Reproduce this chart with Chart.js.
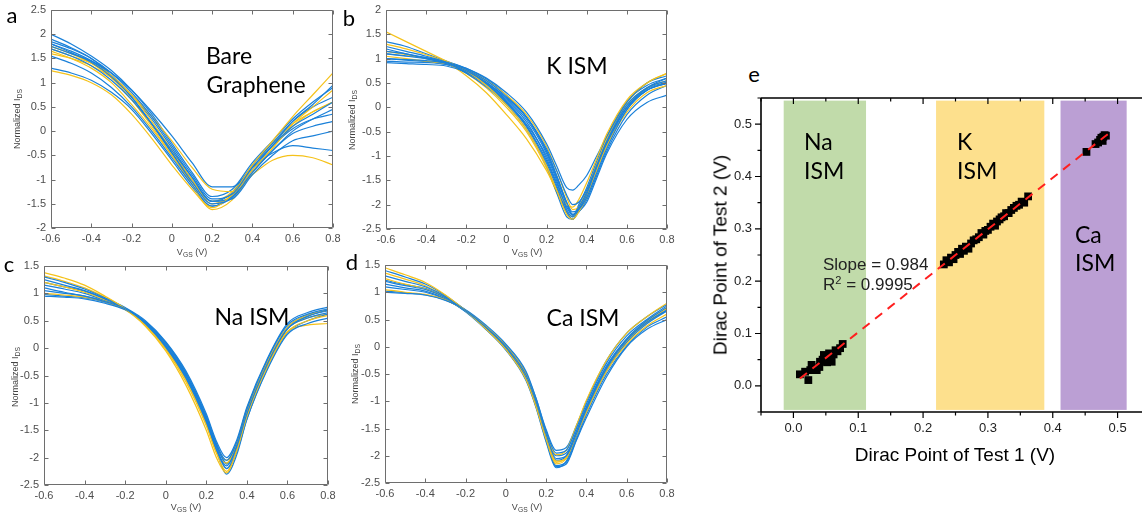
<!DOCTYPE html>
<html>
<head>
<meta charset="utf-8">
<script src="https://cdn.jsdelivr.net/npm/chart.js@4.4.1/dist/chart.umd.min.js"></script>
<style>
html, body { margin: 0; padding: 0; width: 1142px; height: 520px; overflow: hidden; background: #fff; }
canvas { position: absolute; }
.t { position: absolute; white-space: nowrap; line-height: 1; transform: translate(-50%, -50%); }
.l { position: absolute; white-space: nowrap; line-height: 1; transform: translate(0, -50%); }
.big { font-family: Lato, sans-serif; font-size: 23px; color: #000; }
.pl { font-family: Lato, sans-serif; font-size: 22px; color: #000; }
.ax { font-family: "Liberation Sans", Arial, sans-serif; font-size: 9px; color: #444; }
.rot { transform: translate(-50%, -50%) rotate(-90deg); }
.ea { font-family: "Liberation Sans", Arial, sans-serif; font-size: 19px; color: #000; }
.fit { font-family: "Liberation Sans", Arial, sans-serif; font-size: 17px; color: #222; }
sub { font-size: 75%; vertical-align: -0.3em; line-height: 0; }
sup { font-size: 65%; vertical-align: 0.5em; line-height: 0; }
</style>
</head>
<body>
<canvas id="pa"></canvas>
<canvas id="pb"></canvas>
<canvas id="pc"></canvas>
<canvas id="pd"></canvas>
<canvas id="pe"></canvas>

<!-- panel letters and labels -->
<div class="t pl" style="left:12px;top:15px">a</div>
<div class="t pl" style="left:349px;top:18px">b</div>
<div class="t pl" style="left:9px;top:264px">c</div>
<div class="t pl" style="left:352px;top:262px">d</div>
<div class="t pl" style="left:754px;top:74px">e</div>

<div class="t big" style="left:229px;top:55px">Bare</div>
<div class="t big" style="left:256px;top:84px">Graphene</div>
<div class="t big" style="left:577px;top:65px">K ISM</div>
<div class="t big" style="left:252px;top:316px">Na ISM</div>
<div class="t big" style="left:583px;top:317px">Ca ISM</div>

<div class="t ax rot" style="left:17px;top:119px">Normalized I<sub>DS</sub></div>
<div class="t ax" style="left:192px;top:252px">V<sub>GS</sub> (V)</div>
<div class="t ax rot" style="left:352px;top:120px">Normalized I<sub>DS</sub></div>
<div class="t ax" style="left:527px;top:252px">V<sub>GS</sub> (V)</div>
<div class="t ax rot" style="left:15px;top:377px">Normalized I<sub>DS</sub></div>
<div class="t ax" style="left:186px;top:507px">V<sub>GS</sub> (V)</div>
<div class="t ax rot" style="left:355px;top:374px">Normalized I<sub>DS</sub></div>
<div class="t ax" style="left:527px;top:507px">V<sub>GS</sub> (V)</div>

<div class="l big" style="left:804px;top:141px">Na</div>
<div class="l big" style="left:804px;top:170px">ISM</div>
<div class="l big" style="left:957px;top:141px">K</div>
<div class="l big" style="left:957px;top:170px">ISM</div>
<div class="l big" style="left:1075px;top:234px">Ca</div>
<div class="l big" style="left:1075px;top:262px">ISM</div>
<div class="l fit" style="left:823px;top:264px">Slope = 0.984</div>
<div class="l fit" style="left:823px;top:284px">R<sup>2</sup> = 0.9995</div>
<div class="t ea" style="left:955px;top:454px">Dirac Point of Test 1 (V)</div>
<div class="t ea rot" style="left:720px;top:255px">Dirac Point of Test 2 (V)</div>

<script>
// ---- data ----

// a: bare graphene transfer curves
const vgsBare = [-0.6,-0.5,-0.4,-0.3,-0.2,-0.1,0,0.1,0.2,0.3,0.4,0.5,0.6,0.7,0.8];
const bareKinds = ['b','b','y','b','y','b','y','b','b','y','b','b','y','b'];
const bareCurves = [
  [1.85,1.7,1.5,1.2,0.8,0.3,-0.3,-0.9,-1.4,-1.3,-0.75,-0.3,0.1,0.35,0.6],
  [1.8,1.62,1.42,1.12,0.7,0.15,-0.45,-1.05,-1.5,-1.38,-0.85,-0.4,0.0,0.25,0.45],
  [1.25,1.15,1.0,0.75,0.35,-0.15,-0.7,-1.2,-1.58,-1.3,-0.7,-0.2,0.3,0.75,1.2],
  [1.7,1.55,1.35,1.05,0.65,0.15,-0.4,-0.95,-1.45,-1.4,-0.9,-0.5,-0.2,-0.1,0.0],
  [1.6,1.5,1.35,1.1,0.75,0.3,-0.2,-0.75,-1.2,-1.25,-0.9,-0.6,-0.5,-0.55,-0.7],
  [2.0,1.8,1.55,1.25,0.85,0.35,-0.25,-0.85,-1.35,-1.2,-0.65,-0.2,0.25,0.6,0.9],
  [1.7,1.55,1.4,1.15,0.75,0.2,-0.4,-1.0,-1.5,-1.32,-0.8,-0.35,0.15,0.5,0.85],
  [1.55,1.4,1.2,0.9,0.5,0.0,-0.55,-1.1,-1.55,-1.32,-0.75,-0.3,0.05,0.25,0.35],
  [1.75,1.6,1.45,1.2,0.85,0.4,-0.1,-0.65,-1.15,-1.15,-0.75,-0.45,-0.3,-0.35,-0.4],
  [1.75,1.6,1.4,1.1,0.65,0.1,-0.5,-1.1,-1.62,-1.42,-0.85,-0.35,0.1,0.4,0.6],
  [1.3,1.2,1.05,0.8,0.45,-0.05,-0.6,-1.15,-1.55,-1.35,-0.8,-0.3,0.2,0.55,0.95],
  [1.9,1.72,1.5,1.15,0.7,0.15,-0.45,-1.0,-1.45,-1.28,-0.7,-0.25,0.2,0.5,0.7],
  [1.65,1.5,1.3,1.0,0.55,0.05,-0.5,-1.05,-1.45,-1.25,-0.7,-0.25,0.15,0.4,0.6],
  [1.8,1.65,1.45,1.15,0.75,0.25,-0.35,-0.95,-1.45,-1.35,-0.85,-0.4,-0.05,0.1,0.2]
];

// b: K ISM
const vgsK = [-0.6,-0.5,-0.4,-0.3,-0.2,-0.1,0,0.1,0.2,0.25,0.3,0.33,0.36,0.4,0.45,0.5,0.6,0.7,0.8];
const kKinds = ['b','b','y','b','b','y','b','b','y','b','b','y','b','b'];
const kCurves = [
  [1.1,1.05,1.0,0.92,0.75,0.5,0.15,-0.3,-1.05,-1.55,-2.05,-2.22,-2.05,-1.75,-1.2,-0.7,0.05,0.4,0.55],
  [1.25,1.15,1.05,0.93,0.78,0.55,0.22,-0.2,-0.9,-1.4,-1.95,-2.15,-2.1,-1.85,-1.35,-0.85,-0.05,0.35,0.5],
  [1.55,1.35,1.15,0.95,0.75,0.45,0.05,-0.45,-1.2,-1.7,-2.2,-2.3,-2.15,-1.85,-1.3,-0.8,-0.1,0.3,0.45],
  [0.92,0.9,0.88,0.85,0.72,0.5,0.2,-0.2,-0.85,-1.3,-1.8,-2.0,-1.95,-1.7,-1.2,-0.7,0.0,0.4,0.6],
  [1.0,0.98,0.96,0.9,0.72,0.45,0.08,-0.4,-1.15,-1.65,-2.15,-2.3,-2.1,-1.8,-1.25,-0.75,0.0,0.35,0.5],
  [1.3,1.2,1.08,0.92,0.65,0.3,-0.15,-0.65,-1.3,-1.7,-2.0,-2.05,-1.9,-1.55,-1.05,-0.55,0.15,0.5,0.7],
  [1.35,1.25,1.1,0.95,0.8,0.6,0.3,-0.1,-0.75,-1.2,-1.65,-1.7,-1.6,-1.4,-1.0,-0.6,0.1,0.5,0.65],
  [1.15,1.1,1.02,0.9,0.7,0.42,0.05,-0.45,-1.2,-1.75,-2.25,-2.3,-2.15,-1.95,-1.45,-0.95,-0.25,0.1,0.25],
  [1.05,1.0,0.95,0.9,0.78,0.55,0.25,-0.15,-0.8,-1.3,-1.85,-2.1,-2.05,-1.75,-1.2,-0.65,0.1,0.5,0.7],
  [1.2,1.1,1.0,0.9,0.72,0.48,0.12,-0.35,-1.0,-1.5,-2.1,-2.25,-2.0,-1.65,-1.1,-0.6,0.12,0.45,0.6],
  [0.95,0.93,0.92,0.88,0.76,0.52,0.18,-0.25,-0.95,-1.45,-2.0,-2.2,-2.1,-1.85,-1.3,-0.8,-0.05,0.35,0.5],
  [1.15,1.08,1.0,0.9,0.7,0.4,0.0,-0.5,-1.25,-1.75,-2.15,-2.25,-2.05,-1.7,-1.15,-0.65,0.05,0.4,0.55],
  [1.1,1.06,1.02,0.94,0.8,0.58,0.25,-0.2,-0.9,-1.4,-1.95,-2.2,-2.15,-1.9,-1.4,-0.9,-0.15,0.25,0.45],
  [1.0,0.97,0.94,0.88,0.74,0.48,0.1,-0.38,-1.1,-1.6,-2.15,-2.3,-2.1,-1.8,-1.25,-0.75,0.0,0.38,0.52]
];

// c: Na ISM
const vgsNa = [-0.6,-0.5,-0.4,-0.3,-0.2,-0.1,0,0.1,0.2,0.25,0.3,0.35,0.4,0.5,0.6,0.7,0.8];
const naKinds = ['b','y','b','b','y','b','b','y','b','b','y','b'];
const naCurves = [
  [1.1,1.02,0.95,0.85,0.72,0.45,0.02,-0.55,-1.35,-1.85,-2.15,-1.8,-1.2,-0.3,0.35,0.55,0.65],
  [1.38,1.28,1.15,0.95,0.72,0.42,-0.02,-0.62,-1.42,-1.92,-2.25,-1.88,-1.25,-0.35,0.3,0.5,0.6],
  [0.95,0.93,0.9,0.82,0.7,0.48,0.1,-0.45,-1.25,-1.75,-2.05,-1.72,-1.12,-0.22,0.42,0.62,0.72],
  [1.25,1.15,1.05,0.9,0.72,0.44,0.04,-0.52,-1.3,-1.8,-2.2,-1.9,-1.3,-0.4,0.25,0.45,0.55],
  [1.0,0.97,0.93,0.85,0.7,0.4,-0.05,-0.68,-1.5,-2.0,-2.28,-1.85,-1.18,-0.3,0.3,0.42,0.45],
  [1.3,1.2,1.08,0.92,0.74,0.5,0.12,-0.42,-1.2,-1.7,-2.0,-1.68,-1.08,-0.2,0.45,0.65,0.75],
  [1.05,1.0,0.95,0.86,0.73,0.46,0.05,-0.5,-1.32,-1.85,-2.2,-1.85,-1.22,-0.32,0.35,0.58,0.7],
  [1.2,1.12,1.02,0.88,0.71,0.43,0.0,-0.58,-1.38,-1.9,-2.1,-1.72,-1.1,-0.25,0.38,0.6,0.7],
  [1.15,1.08,1.0,0.87,0.72,0.47,0.08,-0.48,-1.28,-1.78,-2.1,-1.78,-1.18,-0.28,0.38,0.6,0.68],
  [0.98,0.95,0.92,0.84,0.71,0.44,0.03,-0.56,-1.36,-1.88,-2.3,-1.95,-1.3,-0.38,0.28,0.5,0.62],
  [1.32,1.22,1.1,0.93,0.73,0.46,0.06,-0.5,-1.28,-1.78,-2.05,-1.75,-1.15,-0.28,0.36,0.55,0.62],
  [1.2,1.12,1.04,0.9,0.73,0.48,0.1,-0.46,-1.24,-1.74,-2.12,-1.82,-1.2,-0.3,0.36,0.58,0.7]
];

// d: Ca ISM
const vgsCa = [-0.6,-0.5,-0.4,-0.3,-0.2,-0.1,0,0.1,0.15,0.2,0.25,0.3,0.35,0.4,0.5,0.6,0.7,0.8];
const caKinds = ['b','y','b','b','y','b','b','y','b','b','y','b'];
const caCurves = [
  [1.2,1.12,1.05,0.9,0.66,0.36,0.0,-0.52,-1.0,-1.6,-2.05,-2.0,-1.6,-1.15,-0.4,0.12,0.45,0.68],
  [1.45,1.32,1.18,0.95,0.66,0.33,-0.05,-0.6,-1.1,-1.7,-2.15,-2.05,-1.62,-1.2,-0.45,0.05,0.38,0.6],
  [1.0,0.98,0.95,0.85,0.68,0.4,0.05,-0.45,-0.95,-1.55,-1.95,-1.9,-1.5,-1.05,-0.3,0.2,0.5,0.75],
  [1.3,1.2,1.1,0.92,0.66,0.34,-0.03,-0.58,-1.08,-1.7,-2.2,-2.15,-1.72,-1.3,-0.55,0.0,0.32,0.5],
  [1.05,1.0,0.96,0.86,0.67,0.38,0.02,-0.5,-1.0,-1.58,-1.98,-1.9,-1.45,-0.98,-0.25,0.25,0.55,0.8],
  [1.4,1.28,1.15,0.94,0.67,0.37,0.03,-0.48,-0.95,-1.52,-1.9,-1.85,-1.45,-1.0,-0.25,0.25,0.55,0.78],
  [1.1,1.05,1.0,0.87,0.65,0.33,-0.06,-0.62,-1.12,-1.75,-2.22,-2.1,-1.65,-1.2,-0.45,0.08,0.42,0.66],
  [1.25,1.15,1.06,0.9,0.66,0.36,0.0,-0.54,-1.04,-1.65,-2.1,-2.05,-1.62,-1.18,-0.42,0.1,0.44,0.7],
  [1.15,1.08,1.02,0.88,0.65,0.35,-0.02,-0.56,-1.06,-1.66,-2.08,-2.0,-1.55,-1.1,-0.35,0.15,0.48,0.72],
  [1.02,0.99,0.95,0.86,0.66,0.37,0.0,-0.5,-1.0,-1.62,-2.0,-1.95,-1.58,-1.12,-0.38,0.12,0.44,0.66],
  [1.35,1.24,1.12,0.92,0.67,0.35,-0.03,-0.56,-1.06,-1.68,-2.12,-2.02,-1.58,-1.12,-0.38,0.14,0.47,0.72],
  [1.22,1.14,1.07,0.9,0.64,0.32,-0.05,-0.6,-1.1,-1.72,-2.18,-2.12,-1.7,-1.25,-0.5,0.02,0.36,0.55]
];

// e: Dirac point, test 1 vs test 2
const diracTest1 = [0.010,0.023,0.018,0.026,0.031,0.028,0.036,0.040,0.041,0.045,0.047,0.050,0.052,0.057,0.059,0.055,0.062,0.065,0.068,0.072,0.076,
  0.232,0.236,0.240,0.243,0.247,0.250,0.254,0.257,0.260,0.263,0.266,0.270,0.274,0.278,0.282,0.286,0.290,0.293,0.296,0.300,0.304,0.308,0.311,0.314,0.318,0.321,0.325,0.328,0.332,0.336,0.340,0.344,0.348,0.352,0.356,0.362,
  0.452,0.466,0.470,0.473,0.475,0.478,0.480,0.482,0.477];
const diracTest2 = [0.022,0.011,0.027,0.030,0.033,0.040,0.030,0.036,0.046,0.050,0.059,0.055,0.045,0.059,0.046,0.062,0.060,0.068,0.066,0.072,0.080,
  0.232,0.240,0.236,0.245,0.242,0.250,0.256,0.252,0.262,0.258,0.266,0.262,0.272,0.278,0.280,0.284,0.292,0.289,0.296,0.298,0.304,0.310,0.306,0.314,0.318,0.322,0.324,0.330,0.330,0.336,0.340,0.344,0.346,0.352,0.350,0.362,
  0.447,0.462,0.465,0.470,0.474,0.476,0.479,0.478,0.468];
const fitX = [0.010, 0.488];
const fitY = [0.014, 0.484];
const bandStart = [-0.015, 0.220, 0.412];
const bandEnd = [0.112, 0.387, 0.514];
const bandLow = -0.046, bandHigh = 0.545;

// ---- drawing ----
const BLUE = '#1a80d9', YELLOW = '#f5c21b';
const bandColors = ['#c1dbaa', '#fde08d', '#bb9fd4'];
const tickFont = { family: '"Liberation Sans", Arial, sans-serif', size: 11 };

const matlabBox = {
  id: 'matlabBox',
  afterDatasetsDraw(chart) {
    const { ctx, chartArea: a, scales: { x, y } } = chart;
    ctx.save();
    ctx.strokeStyle = '#6e6e6e';
    ctx.lineWidth = 1;
    const L = Math.round(a.left) + 0.5, R = Math.round(a.right) - 0.5;
    const T = Math.round(a.top) + 0.5, B = Math.round(a.bottom) - 0.5;
    ctx.beginPath();
    ctx.rect(L, T, R - L, B - T);
    x.ticks.forEach(t => {
      const p = Math.round(x.getPixelForValue(t.value)) + 0.5;
      ctx.moveTo(p, B); ctx.lineTo(p, B - 4);
      ctx.moveTo(p, T); ctx.lineTo(p, T + 4);
    });
    y.ticks.forEach(t => {
      const p = Math.round(y.getPixelForValue(t.value)) + 0.5;
      ctx.moveTo(L, p); ctx.lineTo(L + 4, p);
      ctx.moveTo(R, p); ctx.lineTo(R - 4, p);
    });
    ctx.stroke();
    ctx.restore();
  }
};

function fmt(v) {
  return String(Math.round(v * 10) / 10);
}

function curvePanel(id, box, xs, curves, kinds, yMin, yMax) {
  const [left, top, right, bottom] = box;
  const padL = 40, padR = 14, padT = 10, padB = 24;
  const cv = document.getElementById(id);
  cv.width = right - left + padL + padR;
  cv.height = bottom - top + padT + padB;
  cv.style.left = (left - padL) + 'px';
  cv.style.top = (top - padT) + 'px';

  const datasets = curves.map((ys, i) => ({
    data: ys.map((y, j) => ({ x: xs[j], y: y })),
    borderColor: kinds[i] === 'y' ? YELLOW : BLUE,
    borderWidth: 1.2,
    pointRadius: 0,
    cubicInterpolationMode: 'monotone',
    fill: false
  }));

  new Chart(cv, {
    type: 'line',
    data: { datasets },
    options: {
      responsive: false,
      animation: false,
      layout: { padding: { top: padT, right: padR, left: 0, bottom: 0 } },
      plugins: { legend: { display: false }, tooltip: { enabled: false } },
      scales: {
        x: {
          type: 'linear', min: -0.6, max: 0.8,
          grid: { display: false, drawTicks: false }, border: { display: false },
          ticks: { stepSize: 0.2, autoSkip: false, maxRotation: 0, padding: 4, color: '#4d4d4d', font: tickFont, callback: fmt },
          afterFit(s) { s.height = padB; s.paddingLeft = 0; s.paddingRight = 0; }
        },
        y: {
          min: yMin, max: yMax,
          grid: { display: false, drawTicks: false }, border: { display: false },
          ticks: { stepSize: 0.5, autoSkip: false, padding: 5, color: '#4d4d4d', font: tickFont, callback: fmt },
          afterFit(s) { s.width = padL; s.paddingTop = 0; s.paddingBottom = 0; }
        }
      }
    },
    plugins: [matlabBox]
  });
}

curvePanel('pa', [51, 10, 333, 228], vgsBare, bareCurves, bareKinds, -2, 2.5);
curvePanel('pb', [386, 10, 667, 229], vgsK, kCurves, kKinds, -2.5, 2);
curvePanel('pc', [44, 266, 328, 485], vgsNa, naCurves, naKinds, -2.5, 1.5);
curvePanel('pd', [385, 265, 667, 483], vgsCa, caCurves, caKinds, -2.5, 1.5);

// panel e, Origin-style axes
const originAxes = {
  id: 'originAxes',
  beforeDatasetsDraw(chart) {
    const { ctx, scales: { x, y } } = chart;
    ctx.save();
    bandStart.forEach((s, i) => {
      const x0 = x.getPixelForValue(s), x1 = x.getPixelForValue(bandEnd[i]);
      const y0 = y.getPixelForValue(bandHigh), y1 = y.getPixelForValue(bandLow);
      ctx.fillStyle = bandColors[i];
      ctx.fillRect(x0, y0, x1 - x0, y1 - y0);
    });
    ctx.restore();
  },
  afterDatasetsDraw(chart) {
    const { ctx, chartArea: a, scales: { x, y } } = chart;
    ctx.save();
    ctx.strokeStyle = '#000';
    ctx.lineWidth = 1.6;
    ctx.beginPath();
    ctx.moveTo(a.left, a.top); ctx.lineTo(a.right, a.top);
    ctx.moveTo(a.left, a.bottom); ctx.lineTo(a.right, a.bottom);
    ctx.moveTo(a.left, a.top); ctx.lineTo(a.left, a.bottom);
    ctx.moveTo(a.right, a.top); ctx.lineTo(a.right, a.bottom);
    ctx.stroke();
    ctx.lineWidth = 1.2;
    ctx.beginPath();
    x.ticks.forEach(t => {
      const p = x.getPixelForValue(t.value);
      const len = t.label !== '' ? 6 : 3.5;
      ctx.moveTo(p, a.bottom); ctx.lineTo(p, a.bottom + len);
      ctx.moveTo(p, a.top); ctx.lineTo(p, a.top + len);
    });
    y.ticks.forEach(t => {
      const p = y.getPixelForValue(t.value);
      const len = t.label !== '' ? 6 : 3.5;
      ctx.moveTo(a.left, p); ctx.lineTo(a.left - len, p);
      ctx.moveTo(a.right, p); ctx.lineTo(a.right - len, p);
    });
    ctx.stroke();
    ctx.restore();
  }
};

function tenths(v) {
  const r = Math.round(v * 100);
  return r % 10 === 0 ? (r / 100).toFixed(1) : '';
}

(function () {
  const left = 761, top = 98, right = 1150, bottom = 412;
  const padL = 60, padR = 12, padT = 10, padB = 40;
  const cv = document.getElementById('pe');
  cv.width = right - left + padL + padR;
  cv.height = bottom - top + padT + padB;
  cv.style.left = (left - padL) + 'px';
  cv.style.top = (top - padT) + 'px';
  const eFont = { family: '"Liberation Sans", Arial, sans-serif', size: 13 };

  new Chart(cv, {
    type: 'scatter',
    data: {
      datasets: [
        {
          type: 'line',
          data: fitX.map((v, i) => ({ x: v, y: fitY[i] })),
          borderColor: '#ff1f1f', borderWidth: 2, borderDash: [9, 7],
          pointRadius: 0, fill: false, order: 0
        },
        {
          data: diracTest1.map((v, i) => ({ x: v, y: diracTest2[i] })),
          pointStyle: 'rect', pointRadius: 5.5, backgroundColor: '#000', borderColor: '#000',
          borderWidth: 0, order: 1
        }
      ]
    },
    options: {
      responsive: false,
      animation: false,
      layout: { padding: { top: padT, right: padR, left: 0, bottom: 0 } },
      plugins: { legend: { display: false }, tooltip: { enabled: false } },
      scales: {
        x: {
          type: 'linear', min: -0.05, max: 0.55,
          grid: { display: false, drawTicks: false }, border: { display: false },
          ticks: { stepSize: 0.05, autoSkip: false, maxRotation: 0, padding: 9, color: '#222', font: eFont, callback: tenths },
          afterFit(s) { s.height = padB; s.paddingLeft = 0; s.paddingRight = 0; }
        },
        y: {
          min: -0.05, max: 0.55,
          grid: { display: false, drawTicks: false }, border: { display: false },
          ticks: { stepSize: 0.05, autoSkip: false, padding: 9, color: '#222', font: eFont, callback: tenths },
          afterFit(s) { s.width = padL; s.paddingTop = 0; s.paddingBottom = 0; }
        }
      }
    },
    plugins: [originAxes]
  });
})();
</script>
</body>
</html>
